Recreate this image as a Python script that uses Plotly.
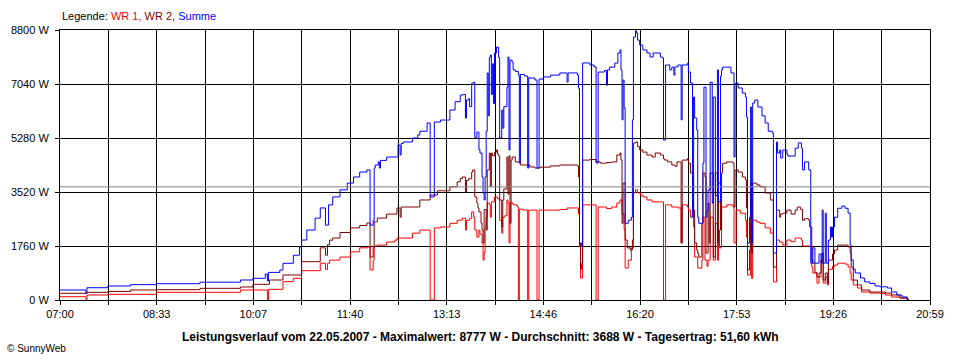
import numpy as np
import plotly.graph_objects as go

# ---------------- data ----------------
sum_times = ["07:00","07:25","07:26","07:46","08:08","08:33","09:15","09:54","10:06","10:18","10:20","10:21","10:32","10:35","10:45","10:51","10:53","10:58","11:06","11:11","11:16","11:19","11:23","11:30","11:37","11:43","11:49","11:56","11:59","12:02","12:03","12:04","12:07","12:08","12:09","12:15","12:26","12:28","12:29","12:31","12:40","12:45","12:47","12:54","12:57","13:01","13:07","13:16","13:21","13:26","13:29","13:31","13:32","13:34","13:35","13:37","13:39","13:40","13:42","13:44","13:45","13:47","13:48","13:49","13:50","13:51","13:52","13:53","13:54","13:55","13:56","13:57","13:58","13:59","14:01","14:03","14:04","14:06","14:07","14:08","14:11","14:12","14:13","14:14","14:16","14:17","14:19","14:22","14:23","14:24","14:28","14:31","14:32","14:33","14:38","14:40","14:42","14:46","14:53","15:02","15:09","15:10","15:19","15:20","15:21","15:23","15:24","15:31","15:35","15:37","15:39","15:45","15:47","15:48","15:50","15:55","15:58","16:00","16:01","16:02","16:03","16:04","16:05","16:08","16:11","16:12","16:13","16:15","16:16","16:17","16:19","16:22","16:26","16:29","16:32","16:39","16:41","16:42","16:44","16:48","16:50","16:52","16:53","16:56","16:59","17:00","17:05","17:06","17:08","17:10","17:11","17:12","17:14","17:15","17:16","17:20","17:21","17:23","17:24","17:25","17:27","17:29","17:30","17:32","17:34","17:35","17:37","17:38","17:39","17:43","17:47","17:50","17:51","17:54","17:58","18:01","18:02","18:03","18:05","18:06","18:07","18:08","18:10","18:13","18:17","18:20","18:23","18:27","18:28","18:31","18:32","18:34","18:35","18:37","18:41","18:42","18:49","18:52","18:55","18:56","18:58","19:02","19:04","19:06","19:08","19:12","19:14","19:15","19:16","19:18","19:19","19:21","19:23","19:24","19:25","19:27","19:30","19:34","19:37","19:40","19:42","19:43","19:45","19:47","19:52","19:56","20:01","20:06","20:11","20:18","20:22","20:27","20:32","20:37","20:38"]
summe = [326,220,400,456,500,531,580,652,707,847,620,900,978,1196,1460,1730,1955,2280,2670,3000,2440,3100,3360,3590,3810,4010,4170,4240,2440,2600,4300,4400,4500,4300,4550,4660,5050,4725,5100,5150,5280,5380,5500,5770,3360,5800,5866,6192,6463,6681,6700,5930,6520,6560,6300,7070,7100,5300,5475,4900,4790,4010,3490,3260,4010,5500,7400,6000,7900,7984,6700,7700,6400,8050,8245,7900,5280,6192,5600,6300,6940,7920,4890,7820,7750,7500,7450,7330,4460,7350,7300,4300,7250,7235,7170,4300,7200,7270,7330,7400,7100,7400,7330,6900,1857,1760,7725,7660,7600,4465,7430,7480,7000,7500,7590,7720,8050,8150,7500,5870,7170,6257,2500,2600,2700,5870,8570,8777,8700,8470,8310,8150,8050,7920,8050,7920,7890,5215,7660,7500,7590,7330,7600,7660,5870,7660,7720,7430,7070,2700,6615,5930,5540,2700,2500,4460,6940,2700,2900,3590,7100,3160,6615,3400,7500,3200,7300,7500,7590,7590,7400,4660,7070,6910,6745,6615,5960,1860,2700,6290,1860,6420,6518,6290,6000,5770,5500,5440,1530,5150,4790,4890,4630,4890,4750,4690,4950,5120,4950,4240,4500,4240,1200,1700,1200,1500,1200,2930,1200,2830,1200,1955,2380,2050,2380,2700,2990,3060,2990,2830,1790,1300,1000,880,717,590,540,456,430,390,260,163,98,33,0]

wr2_times = ["07:00","07:26","07:46","08:08","08:33","09:15","09:54","10:06","10:22","10:35","10:53","11:11","11:16","11:18","11:20","11:23","11:30","11:40","11:49","11:56","11:59","12:02","12:03","12:06","12:15","12:25","12:28","12:29","12:47","12:57","13:04","13:16","13:23","13:26","13:28","13:31","13:32","13:34","13:37","13:38","13:40","13:42","13:43","13:44","13:46","13:47","13:48","13:49","13:51","13:52","13:54","13:55","13:56","13:57","13:59","14:01","14:02","14:03","14:04","14:06","14:07","14:08","14:11","14:12","14:13","14:14","14:15","14:16","14:19","14:24","14:33","14:38","14:43","14:53","15:02","15:19","15:20","15:21","15:22","15:23","15:24","15:31","15:37","15:41","15:47","15:52","15:57","16:00","16:01","16:02","16:03","16:05","16:07","16:10","16:12","16:13","16:15","16:17","16:19","16:22","16:26","16:31","16:34","16:39","16:42","16:43","16:46","16:50","16:53","16:55","16:59","17:00","17:05","17:06","17:08","17:10","17:11","17:12","17:14","17:15","17:16","17:19","17:20","17:22","17:23","17:25","17:26","17:27","17:30","17:32","17:34","17:35","17:37","17:38","17:39","17:43","17:49","17:50","17:51","17:54","17:58","18:01","18:02","18:03","18:05","18:06","18:07","18:08","18:12","18:15","18:20","18:25","18:28","18:31","18:34","18:35","18:37","18:41","18:45","18:49","18:51","18:54","18:56","18:58","19:02","19:03","19:05","19:06","19:08","19:10","19:12","19:14","19:15","19:16","19:18","19:20","19:21","19:25","19:27","19:30","19:37","19:40","19:42","19:43","19:45","19:49","19:53","20:01","20:16","20:22","20:30","20:37","20:38"]
wr2 = [218,250,280,326,336,380,424,510,652,815,1250,1700,1460,1800,1950,2020,2200,2350,2430,2510,1400,1700,2550,2670,2800,3000,2700,3030,3260,3420,3560,3690,3850,3960,4010,3520,3900,3950,4170,4240,3360,3160,3000,2870,2510,2280,1860,2950,2280,4240,4790,3700,4790,4700,4820,4890,4760,4700,3260,2380,3260,3620,4660,3450,4700,2500,4560,4660,4500,4400,4335,4300,4330,4370,4400,4370,4010,1860,1000,1200,4560,4580,4500,4460,4480,4500,4725,4790,4560,2500,3810,1955,1700,1630,1955,5115,5150,5000,4890,4820,4725,4660,4790,4725,4600,4560,4500,4400,4360,4500,1860,4560,4610,4460,4140,4010,2930,1860,1630,1530,1400,2500,4140,4010,1530,3160,1860,4140,1400,4140,1860,3810,2280,4140,4460,4500,4460,3030,4240,4170,4010,3910,3000,980,1630,3810,1530,3810,3750,3690,3490,3260,1075,2930,2700,2800,2830,2930,2800,2930,3030,2960,2600,2650,2600,2380,1300,1200,900,750,880,1300,1530,650,880,550,1300,1500,1630,1790,1790,1730,1530,1075,650,490,325,260,228,163,65,20,0]

wr1_times = ["07:00","07:25","07:26","07:46","08:33","09:54","10:20","10:21","10:35","10:45","10:53","11:11","11:16","11:18","11:20","11:30","11:40","11:49","11:57","11:59","12:02","12:03","12:06","12:15","12:23","12:25","12:40","12:47","12:57","13:01","13:07","13:16","13:23","13:28","13:31","13:32","13:35","13:37","13:39","13:40","13:42","13:44","13:45","13:47","13:48","13:49","13:50","13:51","13:52","13:54","13:55","13:56","13:59","14:02","14:04","14:06","14:07","14:09","14:11","14:12","14:13","14:14","14:17","14:21","14:22","14:23","14:27","14:31","14:32","14:40","14:42","15:02","15:09","15:20","15:21","15:22","15:24","15:37","15:39","15:47","15:52","15:57","16:00","16:02","16:04","16:05","16:08","16:11","16:13","16:15","16:17","16:20","16:22","16:26","16:31","16:41","16:42","16:44","16:50","16:56","16:59","17:00","17:05","17:06","17:08","17:11","17:12","17:15","17:19","17:20","17:22","17:24","17:25","17:27","17:30","17:32","17:34","17:35","17:36","17:38","17:43","17:49","17:50","17:52","17:56","18:01","18:02","18:03","18:06","18:07","18:08","18:12","18:15","18:20","18:25","18:28","18:31","18:34","18:37","18:41","18:45","18:49","18:55","18:56","19:03","19:05","19:06","19:10","19:12","19:14","19:16","19:18","19:20","19:21","19:25","19:27","19:30","19:37","19:40","19:42","19:43","19:45","19:49","19:53","20:01","20:11","20:16","20:22","20:30","20:37","20:38"]
wr1 = [108,0,163,185,250,326,0,348,597,707,955,1200,1000,1200,1300,1400,1570,1700,1730,980,1300,1760,1790,1890,1955,2020,2180,2280,0,2350,2380,2500,2600,2670,2280,2600,2650,2870,2700,2280,2050,2280,2150,1860,1300,1550,2380,2700,3160,3100,2700,3200,3360,3300,2600,2180,2700,2750,3260,3160,1860,3160,3100,3030,0,2960,2930,0,2930,0,2930,2950,3000,2800,1730,717,3100,0,3030,2980,3030,3160,3260,2800,2300,1040,1300,1700,3490,3590,3490,3420,3360,3260,3200,3200,0,3100,3030,3000,1860,3100,3030,2930,2700,2380,1400,1040,1300,2700,1300,1100,1300,2700,1300,2500,1300,2280,1700,3030,3100,3030,1860,2930,2830,2600,2050,815,2500,700,2600,2540,2500,2350,2180,590,1955,1890,1790,1955,1900,2020,1950,1760,1760,1075,880,550,750,1300,550,750,490,1000,1100,1140,1200,1170,1075,880,650,490,390,260,228,210,163,98,65,20,0]

durchschnitt = 3688
y_tick_values = [0, 1760, 3520, 5280, 7040, 8800]
x_tick_labels = ["07:00", "08:33", "10:07", "11:40", "13:13", "14:46", "16:20", "17:53", "19:26", "20:59"]
legend_names = ["WR 1", "WR 2", "Summe"]
bottom_title = "Leistungsverlauf vom 22.05.2007 - Maximalwert: 8777 W - Durchschnitt: 3688 W - Tagesertrag: 51,60 kWh"

# ---------------- helpers ----------------
def to_min(s):
    h, m = s.split(":")
    return int(h) * 60 + int(m)

FONT = "Liberation Sans, Arial, sans-serif"
C_WR1, C_WR2, C_SUM = "#FF0000", "#800000", "#0000FF"

x_start, x_end = to_min(x_tick_labels[0]), to_min(x_tick_labels[-1])
grid_vals = np.linspace(x_start, x_end, 2 * (len(x_tick_labels) - 1) + 1)
grid_text = []
for i in range(len(grid_vals)):
    grid_text.append(x_tick_labels[i // 2] if i % 2 == 0 else "")

fig = go.Figure()
for times, vals, col, name in [(wr1_times, wr1, C_WR1, legend_names[0]),
                               (wr2_times, wr2, C_WR2, legend_names[1]),
                               (sum_times, summe, C_SUM, legend_names[2])]:
    fig.add_trace(go.Scatter(x=[to_min(t) for t in times], y=vals, mode="lines",
                             line=dict(color=col, width=1, shape="hv"), name=name,
                             hoverinfo="skip"))

fig.add_shape(type="line", xref="paper", x0=0, x1=1, yref="y", y0=durchschnitt, y1=durchschnitt,
              line=dict(color="#808080", width=1), layer="above")

axis_common = dict(showgrid=True, gridcolor="black", gridwidth=1, showline=True, linecolor="black",
                   linewidth=1, mirror=True, ticks="outside", ticklen=4, tickcolor="black",
                   tickfont=dict(family=FONT, size=11, color="black"), zeroline=False, fixedrange=True)

fig.update_layout(
    width=960, height=360,
    margin=dict(l=60, r=30, t=30, b=60),
    paper_bgcolor="white", plot_bgcolor="white",
    showlegend=False,
    xaxis=dict(range=[x_start, x_end], tickmode="array", tickvals=list(grid_vals), ticktext=grid_text,
               **axis_common),
    yaxis=dict(range=[0, y_tick_values[-1]], tickmode="array", tickvals=y_tick_values,
               ticktext=[f"{v} W" for v in y_tick_values], ticklabelstandoff=4, **axis_common),
    font=dict(family=FONT, size=11, color="black"),
)

legend_html = ("Legende: "
               f"<span style='color:{C_WR1}'>{legend_names[0]},</span> "
               f"<span style='color:{C_WR2}'>{legend_names[1]},</span> "
               f"<span style='color:{C_SUM}'>{legend_names[2]}</span>")
fig.add_annotation(text=legend_html, xref="paper", yref="paper", x=0, y=1.052,
                   xanchor="left", yanchor="middle", showarrow=False,
                   font=dict(family=FONT, size=11, color="black"))
fig.add_annotation(text=f"<b>{bottom_title}</b>", xref="paper", yref="paper", x=0.4828, y=-0.137,
                   xanchor="center", yanchor="middle", showarrow=False,
                   font=dict(family=FONT, size=12, color="black"))
fig.add_annotation(text="© SunnyWeb", xref="paper", yref="paper", x=-0.0632, y=-0.181,
                   xanchor="left", yanchor="middle", showarrow=False,
                   font=dict(family=FONT, size=10, color="black"))

fig.write_html("out.html", config={"displayModeBar": False},
               post_script="document.body.style.margin='0';")
